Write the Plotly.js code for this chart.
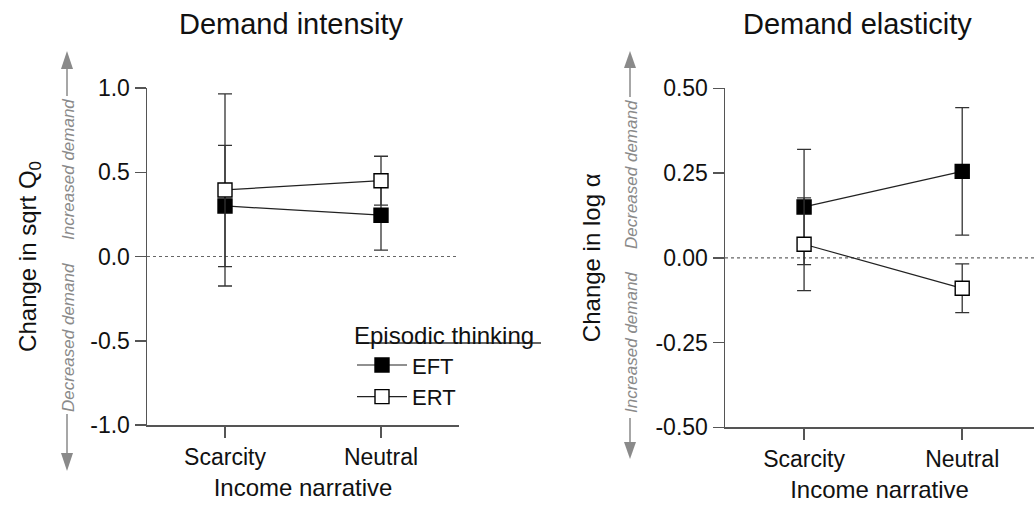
<!DOCTYPE html>
<html>
<head>
<meta charset="utf-8">
<script src="https://cdn.plot.ly/plotly-3.0.1.min.js"></script>
<style>html,body{margin:0;padding:0;background:#fff;}#chart{width:1034px;height:506px;}</style>
</head>
<body>
<div id="chart"></div>
<script>
// ---- data ----
const categories = ['Scarcity', 'Neutral'];
const intensityEFT = [0.30, 0.245];
const intensityEFTErr = [0.36, 0.207];
const intensityERT = [0.395, 0.45];
const intensityERTErr = [0.57, 0.145];
const elasticityEFT = [0.15, 0.255];
const elasticityEFTErr = [0.17, 0.188];
const elasticityERT = [0.04, -0.09];
const elasticityERTErr = [0.137, 0.072];
const intensityTickVals = [-1, -0.5, 0, 0.5, 1];
const intensityTickText = ['-1.0', '-0.5', '0.0', '0.5', '1.0'];
const elasticityTickVals = [-0.5, -0.25, 0, 0.25, 0.5];
const elasticityTickText = ['-0.50', '-0.25', '0.00', '0.25', '0.50'];
const seriesNames = ['EFT', 'ERT'];

// ---- helpers (pixel -> paper) ----
const W = 1034, H = 506;
const X = px => px / W;
const Y = py => 1 - py / H;
const FONT = 'Arial, "Liberation Sans", Helvetica, sans-serif';
const GRAY = '#8a8a8a';

function trace(y, err, name, filled, xa, ya, showlegend) {
  return {
    type: 'scatter', mode: 'lines+markers',
    x: categories, y: y, name: name, xaxis: xa, yaxis: ya,
    showlegend: showlegend,
    line: {color: '#222', width: 1.2},
    marker: {symbol: 'square', size: 14, color: filled ? '#000' : '#fff',
             line: {color: '#000', width: 1.4}},
    error_y: {type: 'data', array: err, visible: true, color: '#333', thickness: 1.3, width: 7},
    cliponaxis: false
  };
}

const data = [
  trace(intensityEFT, intensityEFTErr, seriesNames[0], true, 'x', 'y', true),
  trace(intensityERT, intensityERTErr, seriesNames[1], false, 'x', 'y', true),
  trace(elasticityEFT, elasticityEFTErr, seriesNames[0], true, 'x2', 'y2', false),
  trace(elasticityERT, elasticityERTErr, seriesNames[1], false, 'x2', 'y2', false)
];

const axisCommon = {
  showline: true, linecolor: '#555', linewidth: 1.5,
  ticks: 'outside', tickcolor: '#555', tickwidth: 1.5, ticklen: 11,
  showgrid: false, zeroline: false, fixedrange: true,
  tickfont: {family: FONT, size: 23, color: '#111'}
};

function arrow(x, tipTop, baseTop, lineTopEnd, lineBotStart, baseBot, tipBot) {
  const hw = 6;
  return [
    {type: 'path', xref: 'paper', yref: 'paper',
     path: `M${X(x)},${Y(tipTop)} L${X(x - hw)},${Y(baseTop)} L${X(x + hw)},${Y(baseTop)} Z`,
     fillcolor: GRAY, line: {width: 0}},
    {type: 'path', xref: 'paper', yref: 'paper',
     path: `M${X(x)},${Y(tipBot)} L${X(x - hw)},${Y(baseBot)} L${X(x + hw)},${Y(baseBot)} Z`,
     fillcolor: GRAY, line: {width: 0}},
    {type: 'line', xref: 'paper', yref: 'paper', x0: X(x), x1: X(x), y0: Y(baseTop), y1: Y(lineTopEnd),
     line: {color: GRAY, width: 1.5}},
    {type: 'line', xref: 'paper', yref: 'paper', x0: X(x), x1: X(x), y0: Y(lineBotStart), y1: Y(baseBot),
     line: {color: GRAY, width: 1.5}}
  ];
}

const shapes = [
  {type: 'line', xref: 'x domain', yref: 'y', x0: 0, x1: 1, y0: 0, y1: 0,
   line: {color: '#666', width: 1.2, dash: 'dot'}, layer: 'below'},
  {type: 'line', xref: 'x2 domain', yref: 'y2', x0: 0, x1: 1, y0: 0, y1: 0,
   line: {color: '#666', width: 1.2, dash: 'dot'}, layer: 'below'},
  // legend title underline
  {type: 'line', xref: 'paper', yref: 'paper', x0: X(357), x1: X(541), y0: Y(343), y1: Y(343),
   line: {color: '#333', width: 1.5}}
].concat(arrow(67, 51, 69, 96, 414, 453, 471))
 .concat(arrow(630, 51, 68, 97, 418, 442, 459));

function sideText(text, x, y) {
  return {text: '<i>' + text + '</i>', xref: 'paper', yref: 'paper', x: X(x), y: Y(y),
          showarrow: false, textangle: -90, xanchor: 'center', yanchor: 'middle',
          font: {family: FONT, size: 17, color: GRAY}};
}

const annotations = [
  {text: 'Demand intensity', xref: 'paper', yref: 'paper', x: X(291), y: Y(24),
   showarrow: false, xanchor: 'center', yanchor: 'middle', font: {family: FONT, size: 29, color: '#111'}},
  {text: 'Demand elasticity', xref: 'paper', yref: 'paper', x: X(857), y: Y(24),
   showarrow: false, xanchor: 'center', yanchor: 'middle', font: {family: FONT, size: 29, color: '#111'}},
  sideText('Increased demand', 68, 170),
  sideText('Decreased demand', 68, 338),
  sideText('Decreased demand', 631, 175),
  sideText('Increased demand', 631, 343)
];

const layout = {
  width: W, height: H, autosize: false,
  margin: {l: 0, r: 0, t: 0, b: 0, pad: 0},
  paper_bgcolor: '#fff', plot_bgcolor: 'rgba(0,0,0,0)',
  font: {family: FONT, color: '#111'},
  xaxis: Object.assign({}, axisCommon, {
    domain: [X(147), X(459)], anchor: 'y', type: 'category', range: [-0.5, 1.5],
    title: {text: 'Income narrative', font: {family: FONT, size: 24, color: '#111'}, standoff: 10}
  }),
  yaxis: Object.assign({}, axisCommon, {
    domain: [Y(425), Y(88)], anchor: 'x', range: [-1, 1],
    tickvals: intensityTickVals, ticktext: intensityTickText,
    title: {text: 'Change in sqrt Q<sub>0</sub>', font: {family: FONT, size: 24, color: '#111'}, standoff: 47}
  }),
  xaxis2: Object.assign({}, axisCommon, {
    domain: [X(725), 1], anchor: 'y2', type: 'category', range: [-0.5, 1.454],
    title: {text: 'Income narrative', font: {family: FONT, size: 24, color: '#111'}, standoff: 10}
  }),
  yaxis2: Object.assign({}, axisCommon, {
    domain: [Y(427.3), Y(88.3)], anchor: 'x2', range: [-0.5, 0.5],
    tickvals: elasticityTickVals, ticktext: elasticityTickText,
    title: {text: 'Change in log α', font: {family: FONT, size: 24, color: '#111'}, standoff: 48}
  }),
  showlegend: true,
  legend: {
    x: X(352), xanchor: 'left', y: Y(313), yanchor: 'top',
    bgcolor: 'rgba(0,0,0,0)', borderwidth: 0,
    font: {family: FONT, size: 22, color: '#111'},
    title: {text: 'Episodic thinking', font: {family: FONT, size: 24, color: '#111'}},
    itemwidth: 50, tracegroupgap: 0
  },
  shapes: shapes,
  annotations: annotations
};

Plotly.newPlot('chart', data, layout, {staticPlot: true, displayModeBar: false});
</script>
</body>
</html>
